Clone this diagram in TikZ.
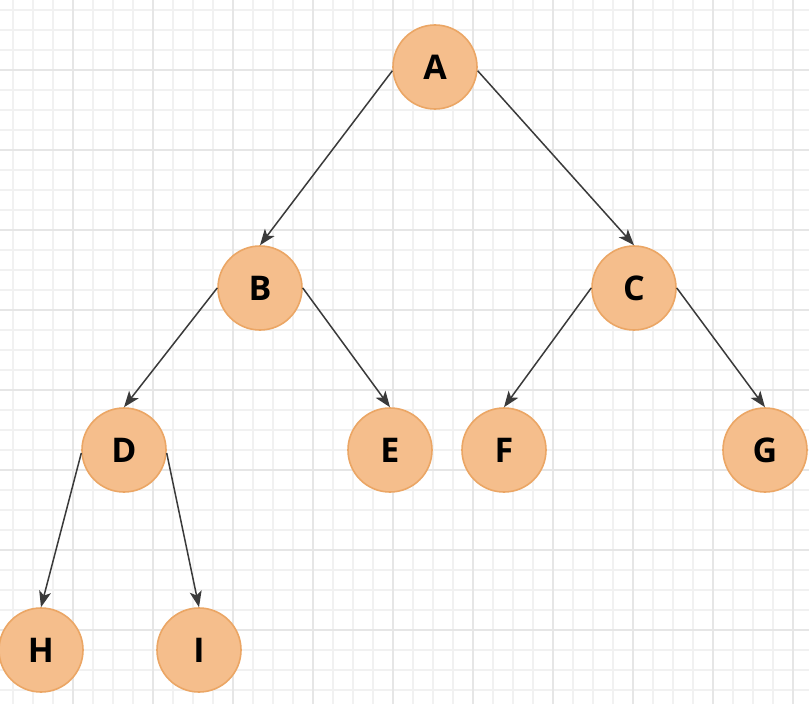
\documentclass[tikz,border=0pt]{standalone}
\usepackage{fontspec}
\setmainfont{Open Sans}
\usetikzlibrary{arrows.meta}
\definecolor{nodefill}{HTML}{F5BE8C}
\definecolor{nodeline}{HTML}{EBA665}
\definecolor{edgecol}{HTML}{3A3A3A}
\definecolor{gridminor}{HTML}{F1F1F1}
\definecolor{gridmajor}{HTML}{E6E6E6}
\tikzset{
  treenode/.style={circle, fill=nodefill, draw=nodeline, line width=1.6pt,
    minimum size=84pt, inner sep=0pt, font=\fontsize{34}{36}\selectfont\bfseries, text=black},
  edge/.style={draw=edgecol, line width=1.5pt, -{Stealth[length=16pt,width=12pt,inset=4pt]}}
}
\begin{document}
\begin{tikzpicture}[x=1pt,y=-1pt]
\useasboundingbox (0,0) rectangle (809,704);
\fill[white] (0,0) rectangle (809,704);
% grid
\foreach \gx in {13,33,...,813} \draw[gridminor, line width=1.2pt] (\gx,0) -- (\gx,704);
\foreach \gy in {10,30,...,710} \draw[gridminor, line width=1.2pt] (0,\gy) -- (809,\gy);
\foreach \gx in {73,153,...,793} \draw[gridmajor, line width=1.5pt] (\gx,0) -- (\gx,704);
\foreach \gy in {70,150,...,710} \draw[gridmajor, line width=1.5pt] (0,\gy) -- (809,\gy);
% nodes
\node[treenode] (A) at (435,67) {A};
\node[treenode] (B) at (260,288) {B};
\node[treenode] (C) at (634,288) {C};
\node[treenode] (D) at (124,450) {D};
\node[treenode] (E) at (390,450) {E};
\node[treenode] (F) at (504,450) {F};
\node[treenode] (G) at (765,450) {G};
\node[treenode] (H) at (41,650) {H};
\node[treenode] (I) at (199,650) {I};
% edges
\draw[edge] (A.185) -- (B.north);
\draw[edge] (A.355) -- (C.north);
\draw[edge] (B.west) -- (D.north);
\draw[edge] (B.east) -- (E.north);
\draw[edge] (C.west) -- (F.north);
\draw[edge] (C.east) -- (G.north);
\draw[edge] (D.184) -- (H.north);
\draw[edge] (D.356) -- (I.north);
\end{tikzpicture}
\end{document}
